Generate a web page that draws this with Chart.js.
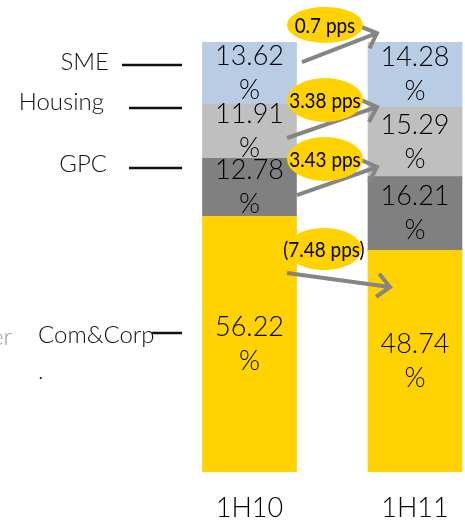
<!DOCTYPE html>
<html>
<head>
<meta charset="utf-8">
<script src="https://cdn.jsdelivr.net/npm/chart.js@4.4.0/dist/chart.umd.min.js"></script>
<style>
  html, body { margin: 0; padding: 0; background: #fff; }
  #wrap { width: 465px; height: 523px; }
</style>
</head>
<body>
<div id="wrap"><canvas id="myChart" width="465" height="523"></canvas></div>
<script>
// data, bottom segment first
const periods = ['1H10', '1H11'];
const segments = ['Com&Corp', 'GPC', 'Housing', 'SME'];
const comCorp = [56.22, 48.74];
const gpc = [12.78, 16.21];
const housing = [11.91, 15.29];
const sme = [13.62, 14.28];
const changes = ['(7.48 pps)', '3.43 pps', '3.38 pps', '0.7 pps'];

const colors = ['#FFD200', '#808080', '#BFBFBF', '#B8CCE4'];
const series = [comCorp, gpc, housing, sme];
const totals = periods.map((p, i) => series.reduce((s, arr) => s + arr[i], 0));

// annotation layout, in axis units (x: category index, y: value)
const sideLabels = [
    { y: 29.98, dy: -2.5, textX: 38, align: 'left', lineFrom: 152 },
    { y: 67.74, dy: 4, textX: 107, align: 'right', lineFrom: 129 },
    { y: 81.28, dy: 5.5, textX: 104, align: 'right', lineFrom: 129 },
    { y: 90.2, dy: 3, textX: 109, align: 'right', lineFrom: 122 }
];
const arrows = [
    { x0: 0.227, y0: 43.74, x1: 0.849, y1: 40.66, cx: 0.450, cy: 49.03, ry: 21 },
    { x0: 0.287, y0: 60.91, x1: 0.770, y1: 67.08, cx: 0.456, cy: 68.84, ry: 22 },
    { x0: 0.227, y0: 73.46, x1: 0.770, y1: 80.30, cx: 0.456, cy: 81.83, ry: 22 },
    { x0: 0.317, y0: 90.16, x1: 0.770, y1: 96.55, cx: 0.456, cy: 98.34, ry: 18 }
];

const overlay = {
    id: 'overlay',
    afterDatasetsDraw(chart) {
        const ctx = chart.ctx;
        const xs = chart.scales.x, ys = chart.scales.y;
        const px = v => xs.getPixelForValue(v);
        const py = v => ys.getPixelForValue(v);
        ctx.save();

        // values inside the segments
        ctx.textAlign = 'center';
        ctx.textBaseline = 'middle';
        ctx.font = '300 27px Lato';
        ctx.fillStyle = '#000';
        chart.data.datasets.forEach((ds, i) => {
            chart.getDatasetMeta(i).data.forEach((bar, j) => {
                const cy = (bar.y + bar.base) / 2;
                ctx.fillText(ds.data[j].toFixed(2), bar.x, cy - 17);
                ctx.fillText('%', bar.x, cy + 17);
            });
        });

        // segment names on the left
        ctx.font = '300 24px Lato';
        sideLabels.forEach((s, i) => {
            const y = py(s.y);
            ctx.fillStyle = '#111';
            ctx.textAlign = s.align;
            ctx.fillText(segments[i], s.textX, y);
            ctx.strokeStyle = '#111';
            ctx.lineWidth = 2.5;
            ctx.beginPath();
            ctx.moveTo(s.lineFrom, y + s.dy);
            ctx.lineTo(182, y + s.dy);
            ctx.stroke();
        });
        ctx.fillStyle = '#999';
        ctx.textAlign = 'right';
        ctx.fillText('Other', 12, py(29.98) + 2);
        ctx.fillStyle = '#222';
        ctx.textAlign = 'left';
        ctx.fillText('.', 38, py(29.98) + 36);

        // change arrows
        ctx.strokeStyle = '#858585';
        ctx.lineWidth = 4;
        arrows.forEach(a => {
            const x0 = px(a.x0), y0 = py(a.y0), x1 = px(a.x1), y1 = py(a.y1);
            const ang = Math.atan2(y1 - y0, x1 - x0);
            ctx.beginPath();
            ctx.moveTo(x0, y0);
            ctx.lineTo(x1, y1);
            ctx.moveTo(x1 - 17 * Math.cos(ang - 0.75), y1 - 17 * Math.sin(ang - 0.75));
            ctx.lineTo(x1, y1);
            ctx.lineTo(x1 - 17 * Math.cos(ang + 0.75), y1 - 17 * Math.sin(ang + 0.75));
            ctx.stroke();
        });

        // change bubbles
        ctx.font = '22px Lato';
        ctx.textAlign = 'center';
        arrows.forEach((a, i) => {
            const cx = px(a.cx), cy = py(a.cy);
            ctx.fillStyle = '#FFD200';
            ctx.beginPath();
            ctx.ellipse(cx, cy, 38, a.ry, 0, 0, Math.PI * 2);
            ctx.fill();
            ctx.fillStyle = '#000';
            ctx.save();
            ctx.translate(cx, cy);
            ctx.scale(0.86, 1);
            ctx.fillText(changes[i], 0, 1);
            ctx.restore();
        });
        ctx.restore();
    }
};

const ctx = document.getElementById('myChart').getContext('2d');
const myChart = new Chart(ctx, {
    type: 'bar',
    data: {
        labels: periods,
        datasets: series.map((arr, i) => ({
            label: segments[i],
            data: arr,
            backgroundColor: colors[i],
            borderWidth: 0,
            barThickness: 94,
            clip: false
        }))
    },
    options: {
        responsive: false,
        animation: false,
        layout: { padding: { left: 249.5, right: 50, top: 42.3, bottom: 0 } },
        plugins: { legend: { display: false }, tooltip: { enabled: false } },
        scales: {
            x: {
                stacked: true,
                offset: false,
                grid: { display: false },
                border: { display: false },
                ticks: { color: '#000', font: { family: 'Lato', size: 27, weight: 300 }, padding: 12 },
                afterFit: s => { s.height = 51.3; }
            },
            y: {
                stacked: true,
                display: false,
                min: 0,
                max: Math.max(...totals)
            }
        }
    },
    plugins: [overlay]
});
</script>
</body>
</html>
